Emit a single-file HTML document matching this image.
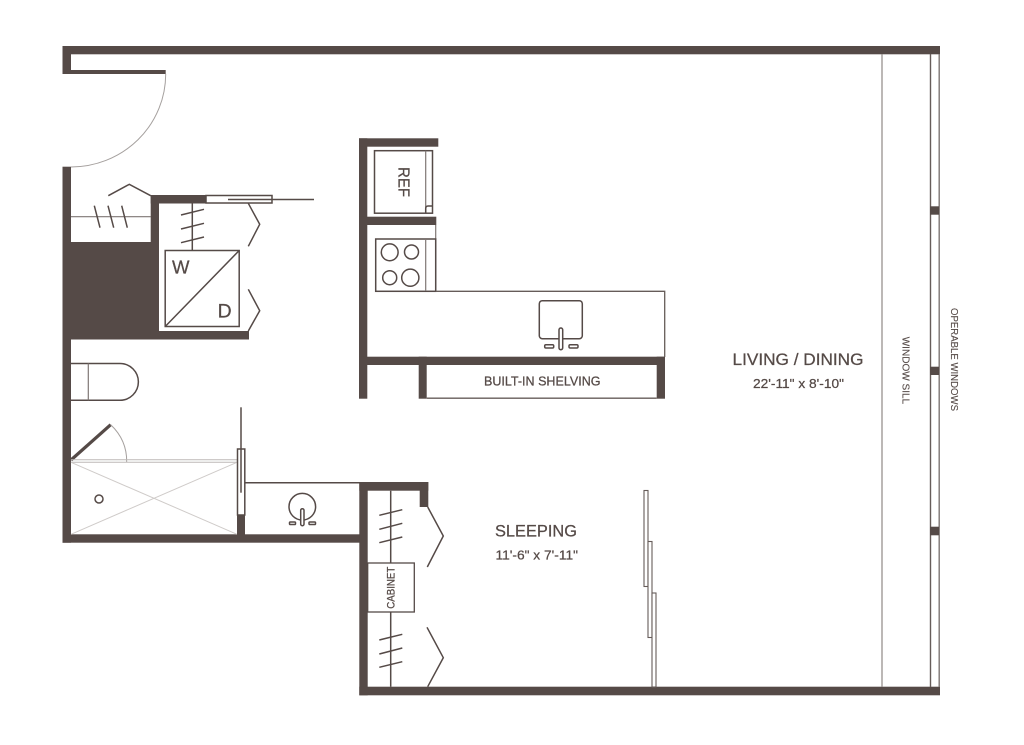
<!DOCTYPE html>
<html><head><meta charset="utf-8"><style>
html,body{margin:0;padding:0;background:#fff;width:1024px;height:745px;overflow:hidden}
svg{display:block}
text{font-family:"Liberation Sans",sans-serif;fill:#554a47;stroke:#554a47;stroke-width:.25}
.w{fill:#554a47;stroke:none}
.l{fill:none;stroke:#554a47;stroke-width:1.5}
.g{fill:none;stroke:#7f7774;stroke-width:1.2}
.s{fill:none;stroke:#cfcbc9;stroke-width:1}
</style></head><body>
<svg width="1024" height="745" viewBox="0 0 1024 745" xmlns="http://www.w3.org/2000/svg">
<rect width="1024" height="745" fill="#fff"/>
<!-- outer walls -->
<rect class="w" x="62.5" y="46" width="877.5" height="8.3"/>
<rect class="w" x="62.5" y="46" width="8.5" height="28"/>
<rect class="w" x="62.5" y="70" width="103.2" height="4"/>
<rect class="w" x="62.5" y="166.7" width="8.5" height="376"/>
<rect class="w" x="62.5" y="534.3" width="297.5" height="8.4"/>
<rect class="w" x="71" y="242" width="88" height="97.5"/>
<rect class="w" x="71" y="331" width="178" height="8.5"/>
<rect class="w" x="150.7" y="195" width="8.3" height="140"/>
<rect class="w" x="150.7" y="195" width="55.3" height="8.5"/>
<rect class="w" x="359.3" y="482" width="8.4" height="213.3"/>
<rect class="w" x="359.3" y="482" width="69" height="8.7"/>
<rect class="w" x="419.7" y="482" width="8.6" height="25"/>
<rect class="w" x="359.3" y="686.7" width="580.7" height="8.6"/>
<!-- entry door -->
<path fill="none" stroke="#a5a09e" stroke-width="1" d="M165.7 74A94.7 93 0 0 1 71 167"/>
<!-- closet -->
<line class="g" x1="71" y1="216.7" x2="151" y2="216.7"/>
<path class="l" d="M94.3 205.7L100 227.7M108 205.7L113.7 227.7M121.7 205.7L127.3 227.7"/>
<path class="l" d="M108.3 195.7L129.3 184.3L150.7 195.7"/>
<!-- laundry -->
<rect class="l" x="206" y="195.5" width="66" height="7.5"/>
<line class="l" x1="228" y1="199.5" x2="314" y2="199.5"/>
<line class="l" x1="192.3" y1="203" x2="192.3" y2="250"/>
<path class="l" d="M181 215L204 209.3M181 229L204 223.3M181 242.7L204 237"/>
<rect class="l" x="165.2" y="250.5" width="74" height="76"/>
<line class="l" x1="165.2" y1="326.5" x2="239.2" y2="250.5"/>
<path class="l" d="M248.3 203.3L259.7 224.3L248.3 246.3M248.3 289.3L259.7 310.7L248.3 331"/>
<text x="172" y="273.3" font-size="18.5" textLength="17.5" lengthAdjust="spacingAndGlyphs">W</text>
<text x="217.7" y="317.7" font-size="19" textLength="14" lengthAdjust="spacingAndGlyphs">D</text>
<!-- kitchen -->
<rect class="w" x="359" y="138.3" width="8.3" height="260.4"/>
<rect class="w" x="359" y="138.3" width="79.3" height="8.4"/>
<rect class="w" x="359" y="216.7" width="77.3" height="8.3"/>
<rect class="w" x="359" y="356.7" width="306" height="8.3"/>
<rect class="w" x="418.7" y="356.7" width="8" height="42"/>
<rect class="w" x="656.7" y="356.7" width="8.3" height="42"/>
<rect class="l" x="374.5" y="150.7" width="58" height="62.5"/>
<line class="g" x1="425.7" y1="150.7" x2="425.7" y2="213"/>
<path class="l" d="M425.7 213V208.5Q425.7 206 428 206H432.5" stroke-width="1"/>
<text transform="translate(398.3 167) rotate(90)" font-size="16" textLength="30" lengthAdjust="spacingAndGlyphs">REF</text>
<line class="g" x1="435.7" y1="225" x2="435.7" y2="291"/>
<rect class="l" x="375.7" y="239" width="60" height="52.3"/>
<line class="g" x1="425.7" y1="239" x2="425.7" y2="291"/>
<circle class="l" cx="389.7" cy="252.3" r="8.4"/>
<circle class="l" cx="411.5" cy="252" r="7"/>
<circle class="l" cx="389.7" cy="277.7" r="7"/>
<circle class="l" cx="410.3" cy="277.7" r="8.6"/>
<path class="g" d="M435.7 291.3H664.7V357" style="stroke:#665c59;stroke-width:1.3"/>
<rect class="l" x="539.3" y="300.7" width="43" height="38" rx="3"/>
<rect class="l" x="559" y="328" width="3.7" height="21.7" rx="1.8" style="fill:#fff"/>
<rect class="l" x="544.7" y="344.7" width="9" height="3.3" rx="1.2"/>
<rect class="l" x="569" y="344.7" width="9" height="3.3" rx="1.2"/>
<line class="g" x1="426.7" y1="398.2" x2="656.7" y2="398.2" style="stroke:#665c59;stroke-width:1.3"/>
<text x="484" y="385.5" font-size="13" textLength="116.5" lengthAdjust="spacingAndGlyphs">BUILT-IN SHELVING</text>
<!-- toilet -->
<path class="l" d="M71 363.5H120A18.4 18.4 0 0 1 120 400.3H71"/>
<line class="g" x1="88.3" y1="363.5" x2="88.3" y2="400.3"/>
<!-- shower -->
<line x1="71" y1="460" x2="110.7" y2="424.7" stroke="#554a47" stroke-width="3.2"/>
<path fill="none" stroke="#a5a09e" stroke-width="1" d="M110.7 424.7Q127 440 126.7 462"/>
<line x1="71" y1="459.8" x2="237" y2="459.8" stroke="#bdb9b7" stroke-width="1"/>
<line x1="71" y1="462.3" x2="237" y2="462.3" stroke="#bdb9b7" stroke-width="1"/>
<path class="s" d="M71 462.3L237 534.3M71 534.3L237 462.3"/>
<circle class="l" cx="99" cy="499" r="4"/>
<rect class="w" x="237" y="515" width="8" height="20"/>
<rect class="l" x="237.5" y="449" width="7.3" height="66"/>
<line class="l" x1="241" y1="407.3" x2="241" y2="492.7"/>
<!-- vanity -->
<line class="l" x1="245" y1="482.7" x2="360" y2="482.7"/>
<circle class="l" cx="302.3" cy="506.7" r="13.3"/>
<rect class="l" x="300.7" y="508.7" width="3.3" height="17" rx="1.6" style="fill:#fff"/>
<rect class="l" x="289.5" y="522" width="6" height="2.5" rx="0.8"/>
<rect class="l" x="309" y="522" width="6.5" height="2.5" rx="0.8"/>
<!-- sleeping closet -->
<line class="l" x1="390.7" y1="490.7" x2="390.7" y2="686.7"/>
<path class="l" d="M379.3 515.3L402.3 509.7M379.3 529.3L402.3 523.3M379.3 542.7L402.3 537M379.3 640L402.3 634.3M379.3 654L402.3 648M379.3 667.3L402.3 661.7"/>
<rect x="367.7" y="563" width="46.6" height="49" fill="#fff" stroke="#554a47" stroke-width="1.3"/>
<text transform="translate(394.3 608.7) rotate(-90)" font-size="11" textLength="42" lengthAdjust="spacingAndGlyphs">CABINET</text>
<path class="l" d="M427.7 507L443.3 536L427.3 567M427 627.3L443.3 657.7L427.7 686.7"/>
<text x="495" y="536.5" font-size="17" textLength="82" lengthAdjust="spacingAndGlyphs">SLEEPING</text>
<text x="495.5" y="559.3" font-size="13" textLength="82.5" lengthAdjust="spacingAndGlyphs">11'-6" x 7'-11"</text>
<!-- sliding doors -->
<rect x="644" y="490.5" width="4" height="96" fill="#fff" stroke="#665c59" stroke-width="1.1"/>
<rect x="648" y="541.5" width="4" height="96" fill="#fff" stroke="#665c59" stroke-width="1.1"/>
<rect x="652" y="593" width="4" height="94" fill="#fff" stroke="#665c59" stroke-width="1.1"/>
<!-- living -->
<text x="732.5" y="365" font-size="17" textLength="131" lengthAdjust="spacingAndGlyphs">LIVING / DINING</text>
<text x="753" y="388" font-size="13" textLength="91" lengthAdjust="spacingAndGlyphs">22'-11" x 8'-10"</text>
<!-- windows -->
<line x1="882" y1="54" x2="882" y2="687" stroke="#8f8885" stroke-width="1.2"/>
<line x1="930.5" y1="54" x2="930.5" y2="687" stroke="#665c59" stroke-width="1.4"/>
<line x1="939.2" y1="54" x2="939.2" y2="687" stroke="#7d7573" stroke-width="1.4"/>
<rect class="w" x="930" y="206.3" width="9" height="8.4"/>
<rect class="w" x="930" y="366.7" width="9" height="8.3"/>
<rect class="w" x="930" y="526.7" width="9" height="8.6"/>
<text transform="translate(902.7 336.7) rotate(90)" font-size="10" textLength="67.5" lengthAdjust="spacingAndGlyphs" style="stroke-width:.1">WINDOW SILL</text>
<text transform="translate(951 308) rotate(90)" font-size="10" textLength="103" lengthAdjust="spacingAndGlyphs" style="stroke-width:.1">OPERABLE WINDOWS</text>
</svg>
</body></html>
